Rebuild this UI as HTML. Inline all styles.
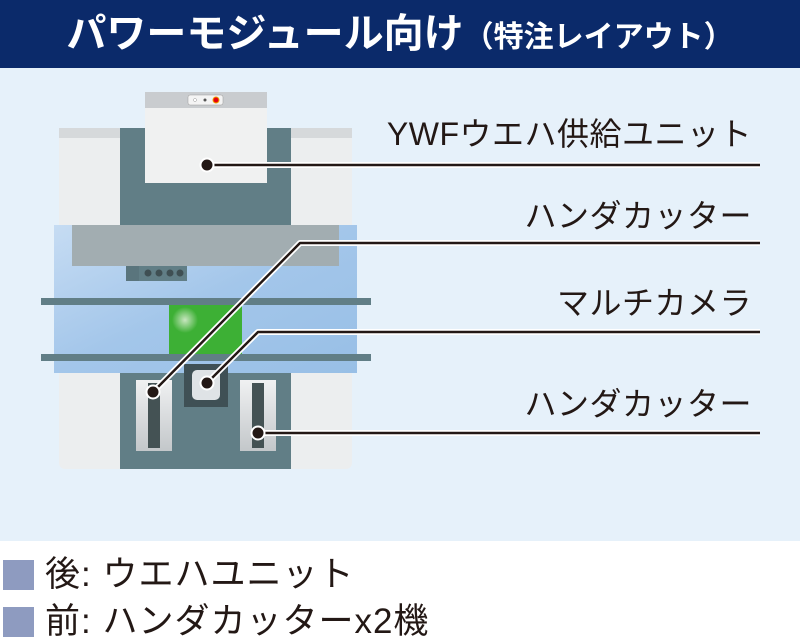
<!DOCTYPE html>
<html><head><meta charset="utf-8"><style>
body{margin:0;width:800px;height:639px;overflow:hidden;background:#fff;font-family:"Liberation Sans","Noto Sans CJK JP",sans-serif;position:relative}
.a{position:absolute}
.lbl{position:absolute;right:48px;font-size:32px;letter-spacing:0.5px;color:#231815;white-space:nowrap;line-height:1}
.leg{position:absolute;left:45px;font-size:35px;letter-spacing:1px;color:#231815;line-height:1;white-space:nowrap}
.sq{position:absolute;left:3px;width:31px;height:30px;background:#8e9bc0}
</style></head><body>
<div class="a" style="left:0;top:0;width:800px;height:68px;background:#0b2a6a"></div>
<div class="a" style="left:0;top:10px;width:800px;text-align:center;color:#fff;font-weight:bold;font-size:40px;line-height:48px;white-space:nowrap">パワーモジュール向け<span style="font-size:30px">（特注レイアウト）</span></div>
<div class="a" style="left:0;top:68px;width:800px;height:473px;background:#e6f1fa"></div>
<svg class="a" style="left:0;top:0" width="800" height="541">
<defs>
<linearGradient id="bl" x1="0" y1="0" x2="1" y2="1"><stop offset="0" stop-color="#c6dcf3"/><stop offset="0.5" stop-color="#a3c6ea"/><stop offset="1" stop-color="#98bfe6"/></linearGradient>
<linearGradient id="cg" x1="0" y1="0" x2="0" y2="1"><stop offset="0" stop-color="#f0f1f2"/><stop offset="1" stop-color="#c3c7ca"/></linearGradient>
<radialGradient id="gg"><stop offset="0" stop-color="#c8e6c0"/><stop offset="1" stop-color="#3db035"/></radialGradient>
</defs>
<rect x="59" y="128" width="293" height="341" rx="6" fill="#eceeef"/>
<rect x="59" y="128" width="293" height="10" fill="#d6d9db"/>
<rect x="120" y="128" width="171" height="341" fill="#617e86"/>
<rect x="145" y="92" width="122" height="91" fill="#f0f1f1"/>
<rect x="145" y="92" width="122" height="16" fill="#c9cccf"/>
<rect x="188" y="95" width="35" height="10" rx="2" fill="#f4f4f4" stroke="#999" stroke-width="0.5"/>
<circle cx="195" cy="100" r="1.5" fill="#fff" stroke="#999" stroke-width="0.5"/>
<circle cx="205" cy="100" r="1.5" fill="#555"/>
<circle cx="216" cy="100" r="3" fill="#e60012" stroke="#f0a000"/>
<rect x="54" y="225" width="303" height="148" fill="url(#bl)"/>
<rect x="72" y="225" width="267" height="41" fill="#a2adb1"/>
<rect x="126" y="266" width="61" height="15" fill="#617e86"/>
<rect x="126" y="266" width="13" height="15" fill="#5a757d"/>
<g fill="#3f4f53"><circle cx="148" cy="273" r="3.5"/><circle cx="159" cy="273" r="3.5"/><circle cx="170" cy="273" r="3.5"/><circle cx="180" cy="273" r="3.5"/></g>
<rect x="169" y="305" width="73" height="49" fill="#3db035"/>
<circle cx="185" cy="320" r="13" fill="url(#gg)"/>
<rect x="41" y="298" width="330" height="7" fill="#617e86"/>
<rect x="41" y="354" width="330" height="7" fill="#617e86"/>
<rect x="184" y="364" width="44" height="43" fill="#3f5055"/>
<rect x="192" y="370" width="28" height="30" rx="5" fill="#dfe3e6"/>
<rect x="136" y="380" width="36" height="71" fill="url(#cg)"/>
<rect x="148" y="383" width="12" height="65" fill="#445254"/>
<rect x="240" y="380" width="36" height="71" fill="url(#cg)"/>
<rect x="252" y="383" width="12" height="65" fill="#445254"/>
<g stroke="#fff" stroke-width="6" fill="none" stroke-linejoin="round">
<polyline points="207,165 760,165"/><polyline points="153,392 300,243 760,243"/><polyline points="207,383 258,332 760,332"/><polyline points="258,433 760,433"/>
</g>
<g stroke="#231815" stroke-width="2.5" fill="none" stroke-linejoin="round">
<polyline points="207,165 760,165"/><polyline points="153,392 300,243 760,243"/><polyline points="207,383 258,332 760,332"/><polyline points="258,433 760,433"/>
</g>
<g fill="#231815" stroke="#fff" stroke-width="2"><circle cx="207" cy="165" r="6.5"/><circle cx="153" cy="392" r="6.5"/><circle cx="207" cy="383" r="6.5"/><circle cx="258" cy="433" r="6.5"/></g>
</svg>
<div class="lbl" style="top:118px">YWFウエハ供給ユニット</div>
<div class="lbl" style="top:200px">ハンダカッター</div>
<div class="lbl" style="top:287px">マルチカメラ</div>
<div class="lbl" style="top:388px">ハンダカッター</div>
<div class="sq" style="top:560px"></div>
<div class="sq" style="top:607px"></div>
<div class="leg" style="top:557px">後: ウエハユニット</div>
<div class="leg" style="top:604px">前: ハンダカッターx2機</div>
</body></html>
